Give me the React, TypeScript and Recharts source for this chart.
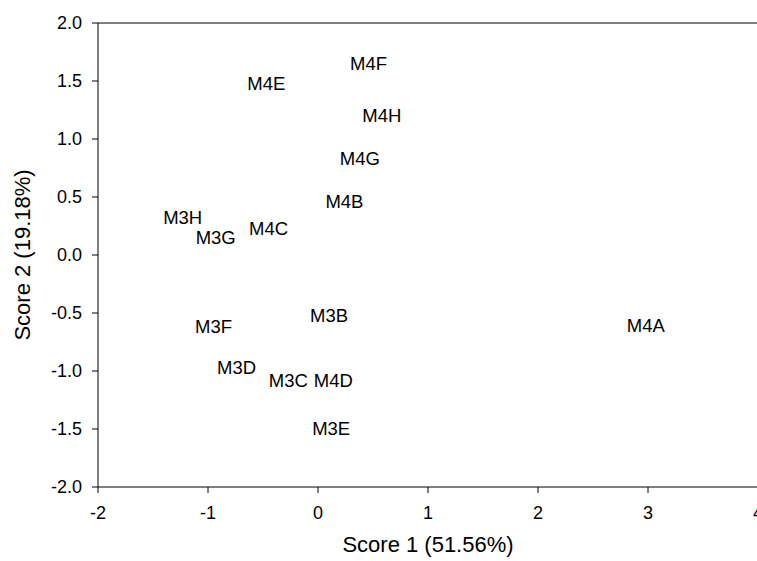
import React from 'react';
import { ScatterChart, Scatter, XAxis, YAxis, ReferenceLine } from 'recharts';

// sample names and their PCA scores
const sampleNames = ['M4F', 'M4E', 'M4H', 'M4G', 'M4B', 'M3H', 'M3G', 'M4C', 'M3B', 'M3F', 'M4A', 'M3D', 'M3C', 'M4D', 'M3E'];
const score1 = [0.46, -0.47, 0.58, 0.38, 0.24, -1.23, -0.93, -0.45, 0.10, -0.95, 2.98, -0.74, -0.27, 0.14, 0.12];
const score2 = [1.655, 1.48, 1.20, 0.83, 0.46, 0.32, 0.15, 0.225, -0.52, -0.62, -0.61, -0.97, -1.085, -1.085, -1.495];

const xTicks = [-2, -1, 0, 1, 2, 3, 4];
const yTicks = [-2, -1.5, -1, -0.5, 0, 0.5, 1, 1.5, 2];

const FONT = '"Liberation Sans", Arial, Helvetica, sans-serif';

const LabelShape = (props: any) => {
  const { cx, cy, payload } = props;
  return (
    <text x={cx} y={cy} textAnchor="middle" dominantBaseline="central" fontSize={18.5} fontFamily={FONT} fill="#000">
      {payload.name}
    </text>
  );
};

const App: React.FC = () => {
  const data = sampleNames.map((name, i) => ({ name, x: score1[i], y: score2[i] }));

  return (
    <div style={{ position: 'absolute', left: 0, top: 0, background: '#fff' }}>
      <ScatterChart width={757} height={561} margin={{ top: 23, right: -1, bottom: 0, left: 0 }}>
        <XAxis
          type="number"
          dataKey="x"
          domain={[-2, 4]}
          ticks={xTicks}
          allowDataOverflow
          height={74}
          stroke="#000"
          tickSize={6}
          tickMargin={13}
          tick={{ fill: '#000', fontSize: 18, fontFamily: FONT }}
          tickLine={{ stroke: '#000' }}
          interval={0}
          label={{ value: 'Score 1 (51.56%)', position: 'insideBottom', offset: 9, fill: '#000', fontSize: 22, fontFamily: FONT }}
        />
        <YAxis
          type="number"
          dataKey="y"
          domain={[-2, 2]}
          ticks={yTicks}
          allowDataOverflow
          width={98}
          stroke="#000"
          tickSize={6}
          tickMargin={10}
          tickFormatter={(v: number) => v.toFixed(1)}
          tick={{ fill: '#000', fontSize: 18, fontFamily: FONT }}
          tickLine={{ stroke: '#000' }}
          interval={0}
          label={{ value: 'Score 2 (19.18%)', angle: -90, position: 'insideLeft', offset: 22, fill: '#000', fontSize: 22, fontFamily: FONT, style: { textAnchor: 'middle' } }}
        />
        <ReferenceLine y={2} stroke="#000" />
        <Scatter data={data} shape={LabelShape} isAnimationActive={false} />
      </ScatterChart>
    </div>
  );
};

export default App;
